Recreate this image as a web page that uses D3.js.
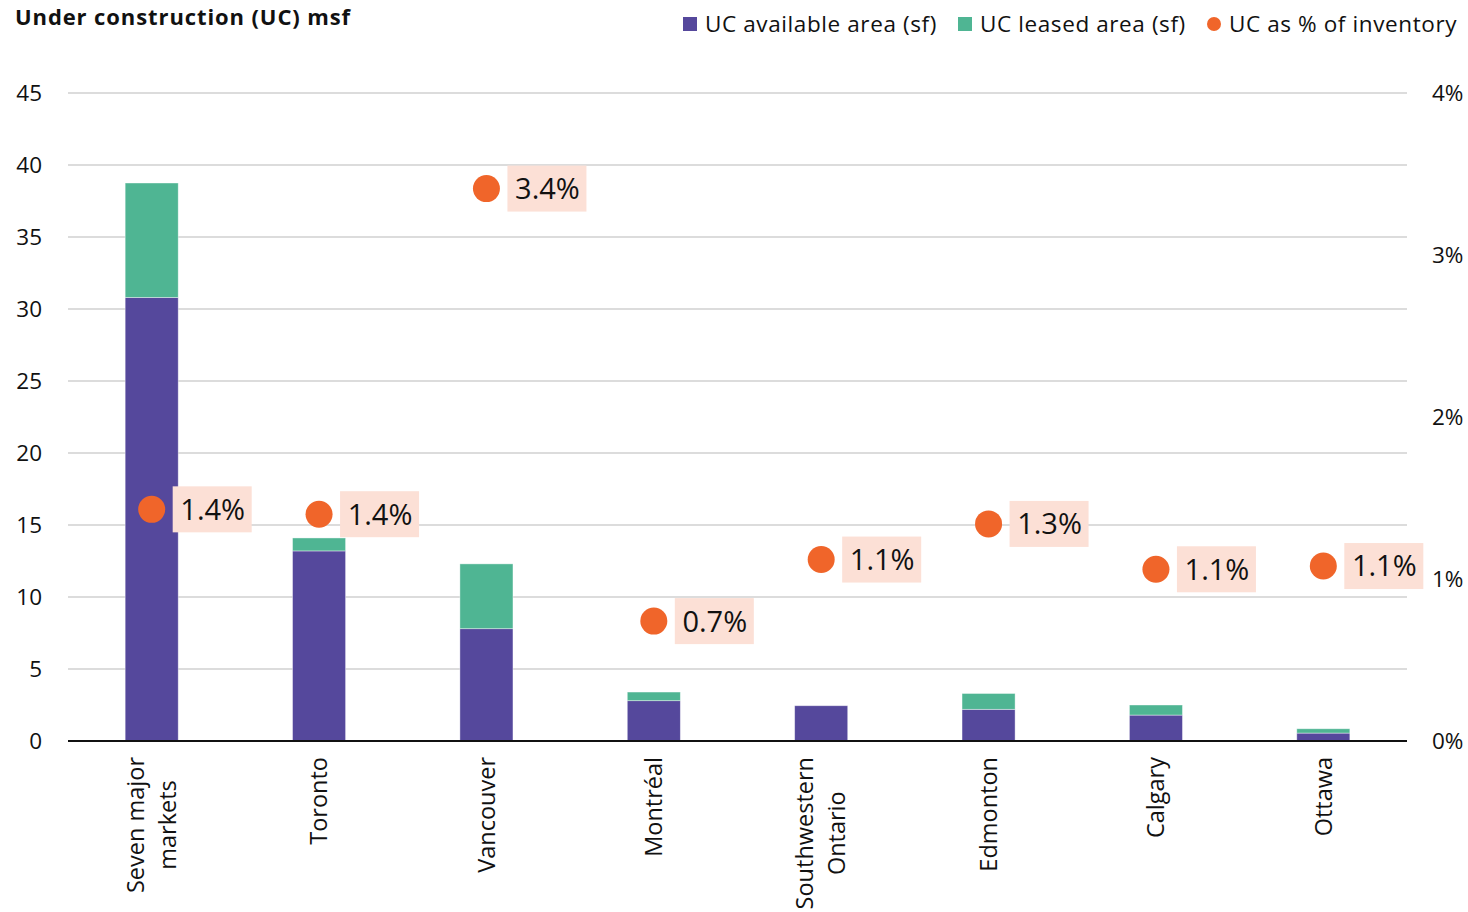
<!DOCTYPE html>
<html>
<head>
<meta charset="utf-8">
<script src="https://cdn.jsdelivr.net/npm/d3@7"></script>
<style>
  html, body { margin: 0; padding: 0; background: #fff; }
  svg { display: block; font-family: "Open Sans", "Noto Sans", sans-serif; }
</style>
</head>
<body>
<svg id="chart" width="1468" height="912"></svg>
<script>
// Office space under construction by market
const markets = [
  ["Seven major", "markets"],
  ["Toronto"],
  ["Vancouver"],
  ["Montréal"],
  ["Southwestern", "Ontario"],
  ["Edmonton"],
  ["Calgary"],
  ["Ottawa"]
];
const availableArea = [30.8, 13.2, 7.8, 2.8, 2.45, 2.2, 1.8, 0.55];   // msf
const leasedArea    = [7.95, 0.9, 4.5, 0.6, 0, 1.1, 0.7, 0.3];        // msf
const pctInventory  = [1.43, 1.40, 3.41, 0.74, 1.12, 1.34, 1.06, 1.08]; // %
const leftTicks  = [0, 5, 10, 15, 20, 25, 30, 35, 40, 45];
const rightTicks = [0, 1, 2, 3, 4];

const colors = { available: "#55489c", leased: "#4fb593", pct: "#f0652a", labelBg: "#fce0d6" };

const svg = d3.select("#chart");
const margin = { left: 68, right: 61, top: 93, bottom: 171 };
const W = 1468, H = 912;
const x0 = margin.left, x1 = W - margin.right;
const yTop = margin.top, yBot = H - margin.bottom;

const keys = markets.map((m, i) => i);
const x = d3.scaleBand().domain(keys).range([x0, x1]).paddingInner(0.683).paddingOuter(0.3415);
const y = d3.scaleLinear().domain([0, 45]).range([yBot, yTop]);
const yR = d3.scaleLinear().domain([0, 4]).range([yBot, yTop]);

// Gridlines
svg.append("g").selectAll("line").data(leftTicks.filter(t => t > 0)).join("line")
  .attr("x1", x0).attr("x2", x1)
  .attr("y1", d => y(d)).attr("y2", d => y(d))
  .attr("stroke", "#d0d0d0").attr("stroke-width", 1.5);

// Left axis labels
svg.append("g").selectAll("text").data(leftTicks).join("text")
  .attr("x", 42).attr("y", d => y(d)).attr("dy", "0.35em")
  .attr("text-anchor", "end").attr("font-size", 22.5).attr("fill", "#111")
  .text(d => d);

// Right axis labels
svg.append("g").selectAll("text").data(rightTicks).join("text")
  .attr("x", 1432).attr("y", d => yR(d)).attr("dy", "0.35em")
  .attr("text-anchor", "start").attr("font-size", 22.5).attr("fill", "#111")
  .text(d => d + "%");

// Stacked bars
const rows = keys.map(i => ({ i, avail: availableArea[i], leased: leasedArea[i] }));
const stack = d3.stack().keys(["avail", "leased"])(rows);
const fills = [colors.available, colors.leased];
svg.append("g").selectAll("g").data(stack).join("g")
  .attr("fill", (d, k) => fills[k])
  .selectAll("rect").data(d => d).join("rect")
  .attr("x", d => x(d.data.i))
  .attr("width", x.bandwidth())
  .attr("y", d => y(d[1]))
  .attr("height", d => Math.max(0, y(d[0]) - y(d[1])))
  .attr("stroke", "rgba(255,255,255,0.5)").attr("stroke-width", 0.8);

// Baseline
svg.append("line").attr("x1", x0).attr("x2", x1)
  .attr("y1", y(0)).attr("y2", y(0))
  .attr("stroke", "#111").attr("stroke-width", 2);

// Percent dots with labels
const pg = svg.append("g");
keys.forEach(i => {
  const cx = x(i) + x.bandwidth() / 2;
  const cy = yR(pctInventory[i]);
  pg.append("rect")
    .attr("x", cx + 21).attr("y", cy - 23)
    .attr("width", 79).attr("height", 46)
    .attr("fill", colors.labelBg);
  pg.append("text")
    .attr("x", cx + 61).attr("y", cy).attr("dy", "0.36em")
    .attr("text-anchor", "middle").attr("font-size", 29).attr("fill", "#111")
    .text(pctInventory[i].toFixed(1) + "%");
  pg.append("circle").attr("cx", cx).attr("cy", cy).attr("r", 13.5).attr("fill", colors.pct);
});

// Category labels, rotated
const lg = svg.append("g");
keys.forEach(i => {
  const lines = markets[i];
  const cx = x(i) + x.bandwidth() / 2;
  const lh = 32;
  const t = lg.append("text")
    .attr("transform", `translate(${cx},757) rotate(-90)`)
    .attr("text-anchor", "end").attr("font-size", 23.5).attr("fill", "#111");
  lines.forEach((ln, j) => {
    t.append("tspan")
      .attr("x", 0)
      .attr("y", (j - (lines.length - 1) / 2) * lh)
      .attr("dy", "0.35em")
      .attr("text-anchor", lines.length > 1 ? "middle" : "end")
      .text(ln);
  });
});
// Two-line labels are centered on their longest line, top-aligned at the axis
lg.selectAll("text").each(function() {
  const ts = d3.select(this).selectAll("tspan");
  if (ts.size() > 1) {
    const widths = ts.nodes().map(n => n.getComputedTextLength());
    const maxW = d3.max(widths);
    ts.attr("x", -maxW / 2);
  }
});

// Title
svg.append("text").attr("x", 15).attr("y", 17).attr("dy", "0.35em")
  .attr("font-size", 22).attr("font-weight", "bold").attr("fill", "#111")
  .attr("letter-spacing", 0.9)
  .text("Under construction (UC) msf");

// Legend
const legend = [
  { label: "UC available area (sf)", color: colors.available, shape: "square" },
  { label: "UC leased area (sf)", color: colors.leased, shape: "square" },
  { label: "UC as % of inventory", color: colors.pct, shape: "circle" }
];
const legX = [683, 958, 1207];
const lgd = svg.append("g");
legend.forEach((d, k) => {
  const g = lgd.append("g").attr("transform", `translate(${legX[k]},24)`);
  if (d.shape === "square") {
    g.append("rect").attr("x", 0).attr("y", -7).attr("width", 14).attr("height", 14).attr("fill", d.color);
  } else {
    g.append("circle").attr("cx", 7).attr("cy", 0).attr("r", 7).attr("fill", d.color);
  }
  g.append("text").attr("x", 22).attr("y", 0).attr("dy", "0.35em")
    .attr("font-size", 22.5).attr("letter-spacing", 0.6).attr("fill", "#111").text(d.label);
});
</script>
</body>
</html>
